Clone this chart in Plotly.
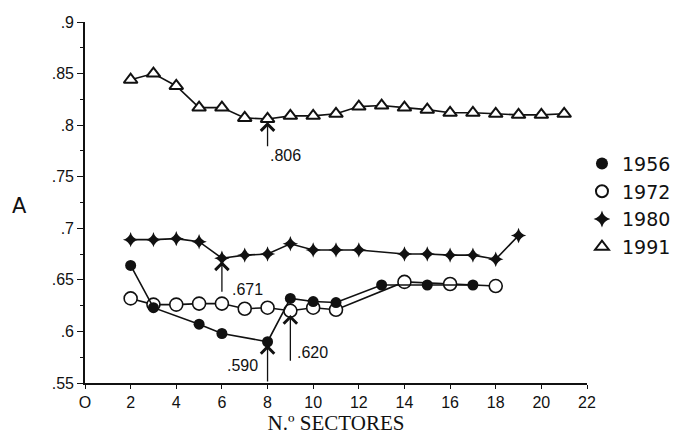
import plotly.graph_objects as go

# ---- data ----
x1956 = [2, 3, 5, 6, 8, 9, 10, 11, 13, 15, 17]
y1956 = [0.664, 0.623, 0.607, 0.598, 0.590, 0.632, 0.629, 0.628, 0.645, 0.645, 0.645]

x1972 = [2, 3, 4, 5, 6, 7, 8, 9, 10, 11, 14, 16, 18]
y1972 = [0.632, 0.626, 0.626, 0.627, 0.627, 0.622, 0.623, 0.620, 0.623, 0.621, 0.648, 0.646, 0.644]

x1980 = [2, 3, 4, 5, 6, 7, 8, 9, 10, 11, 12, 14, 15, 16, 17, 18, 19]
y1980 = [0.689, 0.689, 0.690, 0.687, 0.671, 0.674, 0.675, 0.685, 0.679, 0.679, 0.679,
         0.675, 0.675, 0.674, 0.674, 0.670, 0.693]

x1991 = list(range(2, 22))
y1991 = [0.844, 0.850, 0.838, 0.817, 0.817, 0.807, 0.806, 0.809, 0.809, 0.811,
         0.818, 0.819, 0.817, 0.815, 0.812, 0.812, 0.811, 0.810, 0.810, 0.811]

series_names = ["1956", "1972", "1980", "1991"]
x_ticks = list(range(0, 23, 2))
x_tick_text = ["O"] + [str(v) for v in x_ticks[1:]]
y_ticks = [0.55, 0.6, 0.65, 0.7, 0.75, 0.8, 0.85, 0.9]
y_tick_text = [".55", ".6", ".65", ".7", ".75", ".8", ".85", ".9"]

# annotated minima: (x, value, label)
marks = [(8, 0.806, ".806"), (6, 0.671, ".671"), (8, 0.590, ".590"), (9, 0.620, ".620")]

fig = go.Figure()
black = "#111111"

fig.add_trace(go.Scatter(x=x1972, y=y1972, mode="lines+markers", showlegend=False,
                         line=dict(color=black, width=1.6),
                         marker=dict(symbol="circle", size=13, color="white",
                                     line=dict(color=black, width=1.6))))
fig.add_trace(go.Scatter(x=x1956, y=y1956, mode="lines+markers", showlegend=False,
                         line=dict(color=black, width=1.6),
                         marker=dict(symbol="circle", size=11, color=black)))
fig.add_trace(go.Scatter(x=x1980, y=y1980, mode="lines+markers", showlegend=False,
                         line=dict(color=black, width=1.6),
                         marker=dict(symbol="star-diamond", size=11, color=black)))
fig.add_trace(go.Scatter(x=x1991, y=y1991, mode="lines+markers", showlegend=False,
                         line=dict(color=black, width=1.6),
                         marker=dict(symbol="triangle-up", size=12, color="white",
                                     line=dict(color=black, width=2))))

# legend-only traces (markers only)
leg_styles = [
    dict(symbol="circle", size=12, color=black),
    dict(symbol="circle-open", size=11, color=black, line=dict(width=1.5)),
    dict(symbol="star-diamond", size=12, color=black),
    dict(symbol="triangle-up-open", size=12, color=black, line=dict(width=1.5)),
]
for name, st in zip(series_names, leg_styles):
    fig.add_trace(go.Scatter(x=[None], y=[None], mode="markers", name=name, marker=st))

# arrows + labels
arrow_tails = {".806": 0.778, ".671": 0.637, ".590": 0.55, ".620": 0.570}
arrow_heads = {".806": 0.803, ".671": 0.668, ".590": 0.587, ".620": 0.616}
label_pos = {".806": (8.0, 0.771, "left"), ".671": (6.35, 0.641, "left"),
             ".590": (7.65, 0.567, "right"), ".620": (9.2, 0.580, "left")}
for xv, val, lab in marks:
    fig.add_annotation(x=xv, y=arrow_heads[lab], ax=xv, ay=arrow_tails[lab],
                       xref="x", yref="y", axref="x", ayref="y",
                       showarrow=True, arrowhead=4, arrowsize=2.0, arrowwidth=1.3,
                       arrowcolor=black, text="")
    lx, ly, anc = label_pos[lab]
    fig.add_annotation(x=lx, y=ly, xref="x", yref="y", text=lab, showarrow=False,
                       xanchor=anc, yanchor="middle",
                       font=dict(family="Liberation Sans, Arial", size=16, color=black))

# axis title "A"
fig.add_annotation(x=-0.15, y=0.49, xref="paper", yref="paper", text="A",
                   showarrow=False, font=dict(family="DejaVu Sans", size=21, color=black))

fig.update_xaxes(range=[0, 22], tickvals=x_ticks, ticktext=x_tick_text,
                 showgrid=False, zeroline=False, showline=True, linecolor=black, linewidth=1.6,
                 ticks="outside", ticklen=4, tickwidth=1.2, tickcolor=black,
                 tickfont=dict(family="Liberation Sans, Arial", size=16, color=black),
                 title=dict(text="N.º SECTORES", standoff=4,
                            font=dict(family="Liberation Serif, Times New Roman", size=21, color=black)))
fig.update_yaxes(range=[0.55, 0.9], tickvals=y_ticks, ticktext=y_tick_text,
                 showgrid=False, zeroline=False, showline=True, linecolor=black, linewidth=1.6,
                 ticks="outside", ticklen=6, tickwidth=1.2, tickcolor=black,
                 minor=dict(dtick=0.025, ticks="outside", ticklen=3, tickcolor=black, showgrid=False),
                 tickfont=dict(family="Liberation Sans, Arial", size=16, color=black))

# page body adds an 8px offset, so the figure is sized to sit inside the window
fig.update_layout(
    width=675, height=428,
    margin=dict(l=77, r=96, t=14, b=53, autoexpand=False),
    paper_bgcolor="white", plot_bgcolor="white",
    legend=dict(x=0.99, y=0.66, xanchor="left", yanchor="top",
                font=dict(family="DejaVu Sans", size=19, color=black),
                bgcolor="rgba(0,0,0,0)", tracegroupgap=0, itemsizing="constant"),
)

fig.write_html("out.html")
